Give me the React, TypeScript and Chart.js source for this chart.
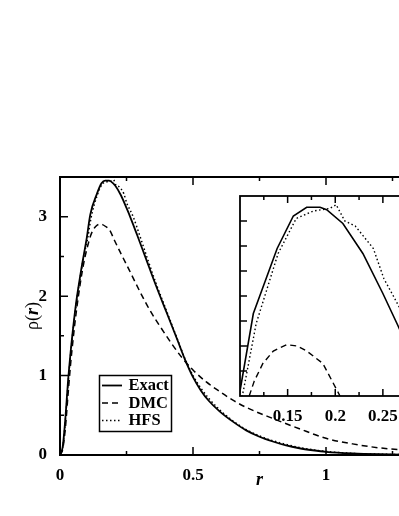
import React, { useEffect, useRef } from "react";
import { Chart, registerables } from "chart.js";

Chart.register(...registerables);

// ---------- data ----------
const exactR = [0, 0.01, 0.02, 0.03, 0.04, 0.05, 0.06, 0.07, 0.08, 0.09, 0.1, 0.114, 0.139, 0.156, 0.17, 0.184, 0.191, 0.208, 0.229, 0.25, 0.266, 0.29, 0.32, 0.36, 0.4, 0.44, 0.47, 0.5, 0.53, 0.56, 0.6, 0.65, 0.7, 0.75, 0.8, 0.85, 0.9, 0.95, 1.0, 1.1, 1.2, 1.3, 1.4, 1.5];
const exactRho = [0, 0.1, 0.45, 0.92, 1.3, 1.62, 1.9, 2.13, 2.34, 2.53, 2.72, 3.03, 3.29, 3.42, 3.455, 3.455, 3.445, 3.39, 3.27, 3.11, 2.98, 2.77, 2.5, 2.14, 1.8, 1.46, 1.2, 0.98, 0.81, 0.68, 0.55, 0.42, 0.31, 0.23, 0.17, 0.12, 0.085, 0.06, 0.04, 0.02, 0.01, 0.005, 0.002, 0.001];

const dmcR = [0, 0.01, 0.02, 0.03, 0.04, 0.05, 0.06, 0.07, 0.08, 0.09, 0.1, 0.107, 0.115, 0.124, 0.135, 0.149, 0.16, 0.17, 0.187, 0.205, 0.23, 0.26, 0.3, 0.34, 0.38, 0.42, 0.46, 0.5, 0.55, 0.6, 0.65, 0.7, 0.8, 0.9, 1.0, 1.1, 1.2, 1.3, 1.4, 1.5];
const dmcRho = [0, 0.07, 0.33, 0.75, 1.15, 1.48, 1.77, 2.02, 2.24, 2.43, 2.58, 2.67, 2.76, 2.83, 2.88, 2.905, 2.9, 2.88, 2.83, 2.7, 2.53, 2.33, 2.06, 1.81, 1.6, 1.4, 1.22, 1.07, 0.92, 0.8, 0.69, 0.6, 0.46, 0.33, 0.21, 0.14, 0.09, 0.06, 0.04, 0.025];

const hfsR = [0, 0.01, 0.02, 0.03, 0.04, 0.05, 0.06, 0.07, 0.08, 0.09, 0.1035, 0.117, 0.14, 0.159, 0.177, 0.194, 0.201, 0.21, 0.221, 0.24, 0.251, 0.261, 0.275, 0.3, 0.33, 0.36, 0.4, 0.44, 0.47, 0.5, 0.53, 0.56, 0.6, 0.65, 0.7, 0.75, 0.8, 0.9, 1.0, 1.1, 1.2, 1.3, 1.5];
const hfsRho = [0, 0.09, 0.42, 0.88, 1.27, 1.6, 1.88, 2.11, 2.32, 2.51, 2.72, 2.99, 3.27, 3.41, 3.44, 3.45, 3.465, 3.4, 3.38, 3.29, 3.17, 3.1, 3.0, 2.76, 2.46, 2.17, 1.82, 1.47, 1.21, 1.0, 0.84, 0.71, 0.57, 0.43, 0.32, 0.24, 0.18, 0.095, 0.045, 0.02, 0.01, 0.005, 0.0];

const seriesLabels = ["Exact", "DMC", "HFS"];

const mainXLabels = [0, 0.5, 1, 1.5];
const mainYLabels = [0, 1, 2, 3];
const mainXMajor = [0.5, 1, 1.5];
const mainXMinor = [0.25, 0.75, 1.25];
const mainYMajor = [1, 2, 3];
const mainYMinor = [0.5, 1.5, 2.5];

const insetXLabels = [0.15, 0.2, 0.25];
const insetXMajor = [0.15, 0.2, 0.25];
const insetXMinor = [0.125, 0.175, 0.225, 0.275];
const insetYMajor = [2.8, 2.9, 3.0, 3.1, 3.2, 3.3, 3.4];

// ---------- styles ----------
const SERIF = '"Liberation Serif", "Times New Roman", serif';
const dashes: number[][] = [[], [6, 4], [1.5, 2.5]];
const mainWidths = [1.8, 1.5, 1.5];
const insetWidths = [1.6, 1.4, 1.4];

const pts = (xs: number[], ys: number[]) => xs.map((x, i) => ({ x, y: ys[i] }));

function makeDatasets(widths: number[], smooth: boolean) {
  const all = [pts(exactR, exactRho), pts(dmcR, dmcRho), pts(hfsR, hfsRho)];
  return all.map((d, i) => ({
    label: seriesLabels[i],
    data: d,
    borderColor: "#000",
    backgroundColor: "#000",
    borderWidth: widths[i],
    borderDash: dashes[i],
    pointRadius: 0,
    fill: false,
    tension: 0,
    cubicInterpolationMode: smooth ? ("monotone" as const) : ("default" as const),
  }));
}

type FrameCfg = {
  fill: boolean;
  frameWidth: number;
  xMajor: number[];
  xMinor: number[];
  yMajor: number[];
  yMinor: number[];
  majorLen: number;
  minorLen: number;
};

function makeFramePlugin(cfg: FrameCfg) {
  return {
    id: "frame",
    beforeDraw(chart: any) {
      if (!cfg.fill) return;
      const { ctx, chartArea: a } = chart;
      ctx.save();
      ctx.fillStyle = "#fff";
      ctx.fillRect(a.left, a.top, a.right - a.left, a.bottom - a.top);
      ctx.restore();
    },
    afterDraw(chart: any) {
      const { ctx, chartArea: a, scales } = chart;
      const xs = scales.x;
      const ys = scales.y;
      ctx.save();
      ctx.strokeStyle = "#000";
      ctx.lineWidth = 1.5;
      ctx.setLineDash([]);
      const vt = (v: number, len: number) => {
        const p = xs.getPixelForValue(v);
        ctx.beginPath();
        ctx.moveTo(p, a.bottom);
        ctx.lineTo(p, a.bottom - len);
        ctx.moveTo(p, a.top);
        ctx.lineTo(p, a.top + len);
        ctx.stroke();
      };
      const ht = (v: number, len: number) => {
        const p = ys.getPixelForValue(v);
        ctx.beginPath();
        ctx.moveTo(a.left, p);
        ctx.lineTo(a.left + len, p);
        ctx.moveTo(a.right, p);
        ctx.lineTo(a.right - len, p);
        ctx.stroke();
      };
      cfg.xMajor.forEach((v) => vt(v, cfg.majorLen));
      cfg.xMinor.forEach((v) => vt(v, cfg.minorLen));
      cfg.yMajor.forEach((v) => ht(v, cfg.majorLen));
      cfg.yMinor.forEach((v) => ht(v, cfg.minorLen));
      ctx.lineWidth = cfg.frameWidth;
      ctx.strokeRect(a.left, a.top, a.right - a.left, a.bottom - a.top);
      ctx.restore();
    },
  };
}

const decorPlugin = {
  id: "decor",
  afterDraw(chart: any) {
    const { ctx, chartArea: a } = chart;
    ctx.save();
    ctx.fillStyle = "#000";
    ctx.strokeStyle = "#000";
    // x title
    ctx.font = `italic bold 18px ${SERIF}`;
    ctx.textAlign = "center";
    ctx.textBaseline = "middle";
    ctx.fillText("r", (a.left + a.right) / 2, 480);
    // y title  ρ(r)
    ctx.save();
    ctx.translate(33, (a.top + a.bottom) / 2);
    ctx.rotate(-Math.PI / 2);
    const parts: [string, string][] = [
      ["ρ(", `18px ${SERIF}`],
      ["r", `italic bold 18px ${SERIF}`],
      [")", `18px ${SERIF}`],
    ];
    let total = 0;
    parts.forEach(([t, f]) => {
      ctx.font = f;
      total += ctx.measureText(t).width;
    });
    let x = -total / 2;
    ctx.textAlign = "left";
    parts.forEach(([t, f]) => {
      ctx.font = f;
      ctx.fillText(t, x, 0);
      x += ctx.measureText(t).width;
    });
    ctx.restore();
    // legend box
    const bx = 99.5, by = 375.5, bw = 72, bh = 56;
    ctx.fillStyle = "#fff";
    ctx.fillRect(bx, by, bw, bh);
    ctx.lineWidth = 1.5;
    ctx.strokeRect(bx, by, bw, bh);
    const rows = [385.5, 403, 420.5];
    chart.data.datasets.forEach((ds: any, i: number) => {
      ctx.beginPath();
      ctx.lineWidth = ds.borderWidth;
      ctx.setLineDash(ds.borderDash || []);
      ctx.moveTo(102, rows[i]);
      ctx.lineTo(122, rows[i]);
      ctx.stroke();
      ctx.setLineDash([]);
      ctx.fillStyle = "#000";
      ctx.font = `bold 16.5px ${SERIF}`;
      ctx.textAlign = "left";
      ctx.textBaseline = "middle";
      ctx.fillText(ds.label, 128.5, rows[i] + 0.5);
    });
    ctx.restore();
  },
};

const tickFont = { family: SERIF, size: 17, weight: "bold" as const };

export default function App() {
  const mainRef = useRef<HTMLCanvasElement>(null);
  const insetRef = useRef<HTMLCanvasElement>(null);

  useEffect(() => {
    const main = new Chart(mainRef.current as HTMLCanvasElement, {
      type: "line",
      data: { datasets: makeDatasets(mainWidths, true) as any },
      options: {
        animation: false,
        responsive: false,
        devicePixelRatio: 1,
        layout: { padding: { top: 177, right: 21, left: 0, bottom: 0 } },
        plugins: { legend: { display: false }, tooltip: { enabled: false } },
        scales: {
          x: {
            type: "linear",
            min: 0,
            max: 1.5,
            grid: { display: false },
            border: { display: false },
            afterBuildTicks: (s: any) => {
              s.ticks = mainXLabels.map((v) => ({ value: v }));
            },
            afterFit: (s: any) => {
              s.height = 61;
              s.paddingLeft = 0;
              s.paddingRight = 0;
            },
            ticks: {
              callback: (v: any) => String(v),
              font: tickFont,
              color: "#000",
              padding: 2,
              maxRotation: 0,
              autoSkip: false,
            },
          },
          y: {
            type: "linear",
            min: 0,
            max: 3.5,
            grid: { display: false },
            border: { display: false },
            afterBuildTicks: (s: any) => {
              s.ticks = mainYLabels.map((v) => ({ value: v }));
            },
            afterFit: (s: any) => {
              s.width = 60;
              s.paddingTop = 0;
              s.paddingBottom = 0;
            },
            ticks: {
              callback: (v: any) => String(v),
              font: tickFont,
              color: "#000",
              padding: 5,
              autoSkip: false,
            },
          },
        },
      },
      plugins: [
        makeFramePlugin({
          fill: false,
          frameWidth: 2,
          xMajor: mainXMajor,
          xMinor: mainXMinor,
          yMajor: mainYMajor,
          yMinor: mainYMinor,
          majorLen: 8,
          minorLen: 4,
        }),
        decorPlugin,
      ],
    });

    const inset = new Chart(insetRef.current as HTMLCanvasElement, {
      type: "line",
      data: { datasets: makeDatasets(insetWidths, false) as any },
      options: {
        animation: false,
        responsive: false,
        devicePixelRatio: 1,
        layout: { padding: { top: 16, right: 29.5, left: 0, bottom: 0 } },
        plugins: { legend: { display: false }, tooltip: { enabled: false } },
        scales: {
          x: {
            type: "linear",
            min: 0.1,
            max: 0.3,
            grid: { display: false },
            border: { display: false },
            afterBuildTicks: (s: any) => {
              s.ticks = insetXLabels.map((v) => ({ value: v }));
            },
            afterFit: (s: any) => {
              s.height = 34;
              s.paddingLeft = 0;
              s.paddingRight = 0;
            },
            ticks: {
              callback: (v: any) => String(v),
              font: tickFont,
              color: "#000",
              padding: 2,
              maxRotation: 0,
              autoSkip: false,
            },
          },
          y: {
            type: "linear",
            min: 2.7,
            max: 3.5,
            grid: { display: false },
            border: { display: false },
            afterFit: (s: any) => {
              s.width = 40;
              s.paddingTop = 0;
              s.paddingBottom = 0;
            },
            ticks: { display: false },
          },
        },
      },
      plugins: [
        makeFramePlugin({
          fill: true,
          frameWidth: 1.8,
          xMajor: insetXMajor,
          xMinor: insetXMinor,
          yMajor: insetYMajor,
          yMinor: [],
          majorLen: 7,
          minorLen: 4,
        }),
      ],
    });

    return () => {
      main.destroy();
      inset.destroy();
    };
  }, []);

  return (
    <div
      style={{
        position: "fixed",
        left: 0,
        top: 0,
        width: 399,
        height: 516,
        overflow: "hidden",
        background: "#fff",
      }}
    >
      <canvas
        ref={mainRef}
        width={480}
        height={516}
        style={{ position: "absolute", left: 0, top: 0, width: 480, height: 516 }}
      />
      <canvas
        ref={insetRef}
        width={260}
        height={250}
        style={{ position: "absolute", left: 200, top: 180, width: 260, height: 250 }}
      />
    </div>
  );
}
